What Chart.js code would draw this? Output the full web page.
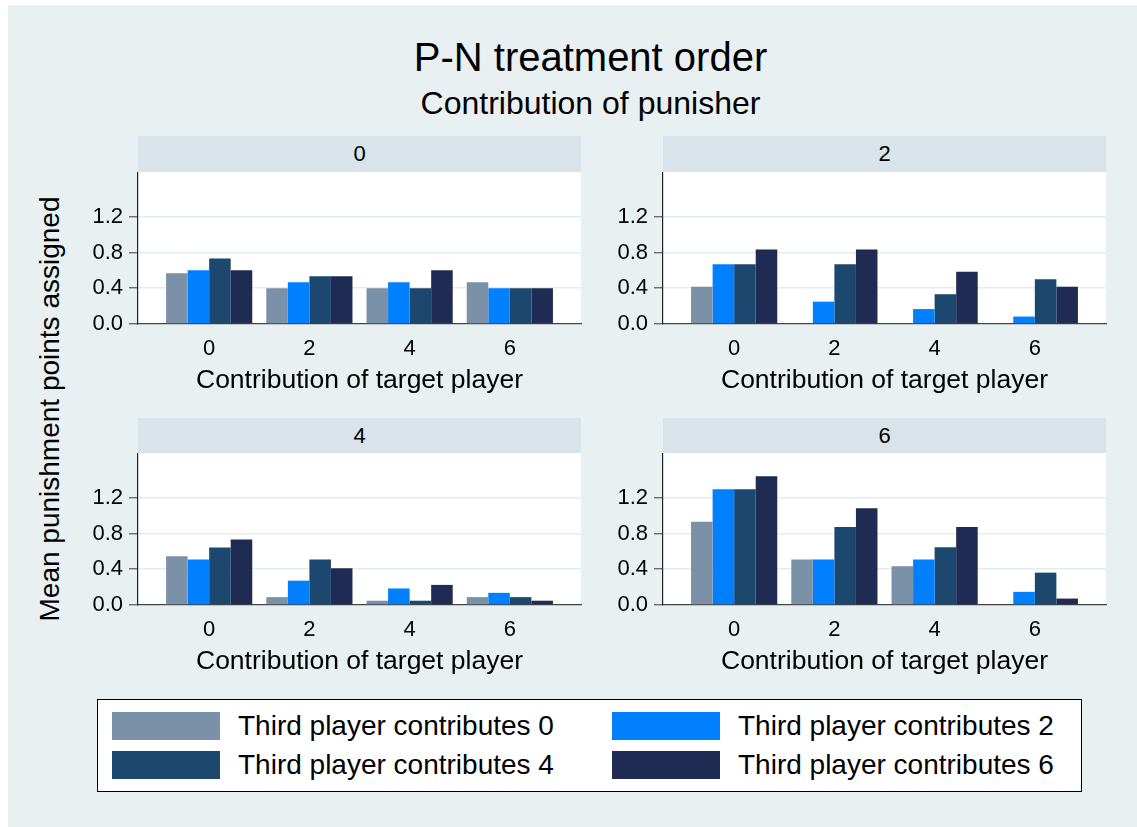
<!DOCTYPE html>
<html>
<head>
<meta charset="utf-8">
<script src="https://cdn.jsdelivr.net/npm/chart.js@4.4.1/dist/chart.umd.min.js"></script>
<style>
  html, body { margin:0; padding:0; background:#ffffff; width:1137px; height:827px; overflow:hidden; }
  body { font-family: 'Liberation Sans', Arial, sans-serif; color:#000; }
  #fig { position:absolute; left:8px; top:5px; width:1129px; height:822px; background:#e9f0f2; }
  .abs { position:absolute; }
  .title { left:0; width:1181px; text-align:center; white-space:nowrap; }
  .strip { background:#d8e4e9; text-align:center; font-size:22px; }
  canvas { position:absolute; }
  #legend { position:absolute; left:97px; top:699px; width:983px; height:91px; background:#fff; border:1.5px solid #000; }
  .sw { position:absolute; width:108px; height:28px; }
  .lt { position:absolute; font-size:28px; line-height:28px; height:28px; white-space:nowrap; }
</style>
</head>
<body>
<div id="fig"></div>
<div class="abs title" style="top:37px;font-size:40px;line-height:40px;">P-N treatment order</div>
<div class="abs title" style="top:87px;font-size:32px;line-height:32px;">Contribution of punisher</div>
<div id="ytitle" class="abs" style="left:50px;top:409px;font-size:28px;line-height:28px;white-space:nowrap;transform:translate(-50%,-50%) rotate(-90deg);">Mean punishment points assigned</div>
<div id="legend"></div>
<script>
// ---------- DATA ----------
const targetContribution = [0, 2, 4, 6];          // x categories
const punisherPanels = ['0', '2', '4', '6'];       // panel headers
const seriesLabels = ['Third player contributes 0', 'Third player contributes 2',
                      'Third player contributes 4', 'Third player contributes 6'];
const yTickValues = [0, 0.4, 0.8, 1.2];
// values per panel: one row per series (third player 0,2,4,6), one column per target contribution
const punisher0 = [
  [0.567, 0.400, 0.400, 0.467],
  [0.600, 0.467, 0.467, 0.400],
  [0.733, 0.533, 0.400, 0.400],
  [0.600, 0.533, 0.600, 0.400]
];
const punisher2 = [
  [0.417, 0, 0, 0],
  [0.667, 0.250, 0.167, 0.083],
  [0.667, 0.667, 0.333, 0.500],
  [0.833, 0.833, 0.583, 0.417]
];
const punisher4 = [
  [0.545, 0.088, 0.048, 0.088],
  [0.509, 0.272, 0.185, 0.136],
  [0.642, 0.509, 0.048, 0.088],
  [0.732, 0.411, 0.225, 0.048]
];
const punisher6 = [
  [0.932, 0.509, 0.434, 0],
  [1.294, 0.509, 0.509, 0.147],
  [1.294, 0.872, 0.645, 0.362],
  [1.440, 1.083, 0.872, 0.072]
];
const panelValues = [punisher0, punisher2, punisher4, punisher6];

// ---------- STYLE / LAYOUT ----------
const seriesColors = ['#7b91a8', '#0080ff', '#1c4870', '#1f2b52'];
const FONT = "'Liberation Sans', Arial, sans-serif";
Chart.defaults.font.family = FONT;
Chart.defaults.color = '#000';
const plotW = 443, plotH = 152, axisW = 80, padR = 6, xAxisH = 75;
const panelPos = [{x:138, y:172, sy:136, sh:36}, {x:663, y:172, sy:136, sh:36},
                  {x:138, y:453, sy:418, sh:35}, {x:663, y:453, sy:418, sh:35}];

const plotBg = {
  id: 'plotBg',
  beforeDraw(chart) {
    const {ctx, chartArea: a} = chart;
    ctx.save(); ctx.fillStyle = '#ffffff';
    ctx.fillRect(a.left, a.top, a.right - a.left, a.bottom - a.top);
    ctx.restore();
  }
};

panelPos.forEach((p, i) => {
  const strip = document.createElement('div');
  strip.className = 'abs strip';
  Object.assign(strip.style, {left: p.x + 'px', top: p.sy + 'px', width: plotW + 'px',
    height: p.sh + 'px', lineHeight: p.sh + 'px'});
  strip.textContent = punisherPanels[i];
  document.body.appendChild(strip);

  const cv = document.createElement('canvas');
  const W = axisW + plotW + padR, H = plotH + xAxisH;
  cv.width = W; cv.height = H;
  cv.style.left = (p.x - axisW) + 'px'; cv.style.top = p.y + 'px';
  cv.style.width = W + 'px'; cv.style.height = H + 'px';
  document.body.appendChild(cv);

  const datasets = panelValues[i].map((vals, s) => ({
    label: seriesLabels[s],
    data: targetContribution.map((c, k) => ({x: c, y: vals[k]})),
    backgroundColor: seriesColors[s],
    borderWidth: 0,
    categoryPercentage: 0.86,
    barPercentage: 1.0
  }));

  new Chart(cv, {
    type: 'bar',
    data: { datasets },
    plugins: [plotBg],
    options: {
      responsive: false, animation: false, devicePixelRatio: 1,
      layout: { padding: { left: 0, right: padR, top: 0, bottom: 0 } },
      plugins: { legend: { display: false }, tooltip: { enabled: false } },
      scales: {
        x: {
          type: 'linear', offset: false, min: -1.42, max: 7.42,
          afterBuildTicks: s => { s.ticks = targetContribution.map(v => ({value: v})); },
          afterFit: s => { s.height = xAxisH; s.paddingLeft = 0; s.paddingRight = 0; },
          grid: { display: false, drawTicks: false },
          border: { display: true, color: '#444', width: 1.2 },
          ticks: { padding: 12, font: { size: 22 }, color: '#000', maxRotation: 0, autoSkip: false,
                   callback: v => String(v) },
          title: { display: true, text: 'Contribution of target player', font: { size: 26.5 },
                   color: '#000', padding: { top: 0, bottom: 2 } }
        },
        y: {
          type: 'linear', min: 0, max: 1.7,
          afterBuildTicks: s => { s.ticks = yTickValues.map(v => ({value: v})); },
          afterFit: s => { s.width = axisW; s.paddingTop = 0; s.paddingBottom = 0; },
          grid: { color: c => (c.tick && c.tick.value === 0) ? 'rgba(0,0,0,0)' : '#e4ecef',
                  lineWidth: 1.5, drawTicks: true, tickLength: 9, tickColor: '#555', tickWidth: 1.2 },
          border: { display: true, color: '#222', width: 1.2 },
          ticks: { padding: 6, font: { size: 22 }, color: '#000', autoSkip: false,
                   callback: v => Number(v).toFixed(1) }
        }
      }
    }
  });
});

// ---------- LEGEND ----------
const legend = document.getElementById('legend');
const legPos = [{sx:14, tx:140, ty:12}, {sx:514, tx:640, ty:12}, {sx:14, tx:140, ty:51}, {sx:514, tx:640, ty:51}];
[0, 1, 2, 3].forEach(s => {
  const lp = legPos[s];
  const sw = document.createElement('div');
  sw.className = 'sw';
  Object.assign(sw.style, {left: lp.sx + 'px', top: lp.ty + 'px', background: seriesColors[s]});
  legend.appendChild(sw);
  const t = document.createElement('div');
  t.className = 'lt';
  Object.assign(t.style, {left: lp.tx + 'px', top: lp.ty + 'px'});
  t.textContent = seriesLabels[s];
  legend.appendChild(t);
});
</script>
</body>
</html>
